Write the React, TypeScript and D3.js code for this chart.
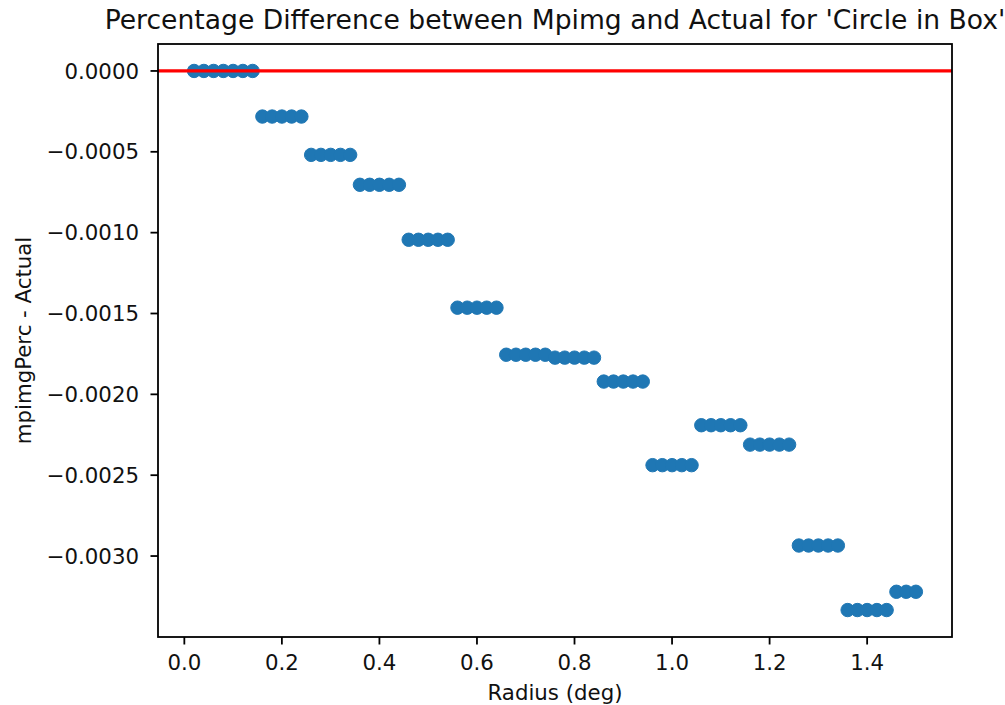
import React from "react";
import * as d3 from "d3";

const radius = [
  0.02, 0.04, 0.06, 0.08, 0.1, 0.12, 0.14,
  0.16, 0.18, 0.2, 0.22, 0.24,
  0.26, 0.28, 0.3, 0.32, 0.34,
  0.36, 0.38, 0.4, 0.42, 0.44,
  0.46, 0.48, 0.5, 0.52, 0.54,
  0.56, 0.58, 0.6, 0.62, 0.64,
  0.66, 0.68, 0.7, 0.72, 0.74,
  0.76, 0.78, 0.8, 0.82, 0.84,
  0.86, 0.88, 0.9, 0.92, 0.94,
  0.96, 0.98, 1.0, 1.02, 1.04,
  1.06, 1.08, 1.1, 1.12, 1.14,
  1.16, 1.18, 1.2, 1.22, 1.24,
  1.26, 1.28, 1.3, 1.32, 1.34,
  1.36, 1.38, 1.4, 1.42, 1.44,
  1.46, 1.48, 1.5,
];

const diff = [
  0, 0, 0, 0, 0, 0, 0,
  -0.000282, -0.000282, -0.000282, -0.000282, -0.000282,
  -0.000519, -0.000519, -0.000519, -0.000519, -0.000519,
  -0.000704, -0.000704, -0.000704, -0.000704, -0.000704,
  -0.001044, -0.001044, -0.001044, -0.001044, -0.001044,
  -0.001464, -0.001464, -0.001464, -0.001464, -0.001464,
  -0.001755, -0.001755, -0.001755, -0.001755, -0.001755,
  -0.001773, -0.001773, -0.001773, -0.001773, -0.001773,
  -0.001921, -0.001921, -0.001921, -0.001921, -0.001921,
  -0.002438, -0.002438, -0.002438, -0.002438, -0.002438,
  -0.002191, -0.002191, -0.002191, -0.002191, -0.002191,
  -0.002311, -0.002311, -0.002311, -0.002311, -0.002311,
  -0.002935, -0.002935, -0.002935, -0.002935, -0.002935,
  -0.003334, -0.003334, -0.003334, -0.003334, -0.003334,
  -0.003221, -0.003221, -0.003221,
];

const xTicks = [0.0, 0.2, 0.4, 0.6, 0.8, 1.0, 1.2, 1.4];
const yTicks = [0, -0.0005, -0.001, -0.0015, -0.002, -0.0025, -0.003];

const width = 1005;
const height = 705;
const margin = { top: 44, right: 53, bottom: 68, left: 158 };
const font = "DejaVu Sans, sans-serif";
const fs = 21.3;

// matplotlib style 5% padding around data
const padded = (vals: number[]) => {
  const [lo, hi] = d3.extent(vals) as [number, number];
  const p = (hi - lo) * 0.05;
  return [lo - p, hi + p];
};

const fmtY = (v: number) => (v === 0 ? "0.0000" : "\u2212" + d3.format(".4f")(-v));

const App = () => {
  const innerW = width - margin.left - margin.right;
  const innerH = height - margin.top - margin.bottom;

  const x = d3.scaleLinear().domain(padded(radius)).range([0, innerW]);
  const y = d3.scaleLinear().domain(padded(diff)).range([innerH, 0]);

  return (
    <svg
      width={width}
      height={height}
      style={{ position: "absolute", left: 0, top: 0, background: "white" }}
      fontFamily={font}
    >
      <text x={margin.left + innerW / 2} y={29} textAnchor="middle" fontSize={26.6} fill="#111">
        Percentage Difference between Mpimg and Actual for 'Circle in Box'
      </text>
      <g transform={`translate(${margin.left},${margin.top})`}>
        <defs>
          <clipPath id="plot">
            <rect x={0} y={0} width={innerW} height={innerH} />
          </clipPath>
        </defs>
        <g clipPath="url(#plot)">
          {radius.map((r, i) => (
            <circle
              key={i}
              cx={x(r)}
              cy={y(diff[i])}
              r={6.7}
              fill="#1f77b4"
              stroke="#1f77b4"
              strokeWidth={1}
            />
          ))}
          <line x1={0} x2={innerW} y1={y(0)} y2={y(0)} stroke="#ff0000" strokeWidth={3.3} />
        </g>
        <rect x={0} y={0} width={innerW} height={innerH} fill="none" stroke="#000" strokeWidth={1.8} />

        {/* x ticks */}
        {xTicks.map((t) => (
          <g key={t} transform={`translate(${x(t)},${innerH})`}>
            <line y2={7.5} stroke="#000" strokeWidth={1.8} />
            <text y={32.5} textAnchor="middle" fontSize={fs} fill="#111">
              {d3.format(".1f")(t)}
            </text>
          </g>
        ))}

        {/* y ticks */}
        {yTicks.map((t) => (
          <g key={t} transform={`translate(0,${y(t)})`}>
            <line x2={-7.5} stroke="#000" strokeWidth={1.8} />
            <text x={-19} dy="0.36em" textAnchor="end" fontSize={fs} fill="#111">
              {fmtY(t)}
            </text>
          </g>
        ))}
      </g>
      <text x={margin.left + innerW / 2} y={700} textAnchor="middle" fontSize={fs} fill="#111">
        Radius (deg)
      </text>
      <text
        transform={`translate(31,${margin.top + innerH / 2}) rotate(-90)`}
        textAnchor="middle"
        fontSize={fs}
        fill="#111"
      >
        mpimgPerc - Actual
      </text>
    </svg>
  );
};

export default App;
